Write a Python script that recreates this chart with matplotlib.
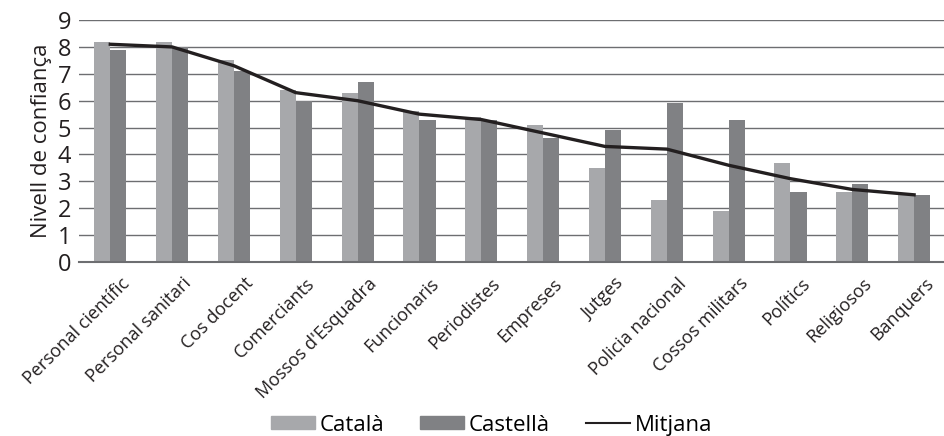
import numpy as np
import matplotlib.pyplot as plt
import matplotlib.transforms as mtransforms
from matplotlib.patches import Patch
from matplotlib.lines import Line2D

plt.rcParams['font.family'] = ['Open Sans', 'DejaVu Sans']

categories = ["Personal científic", "Personal sanitari", "Cos docent", "Comerciants",
              "Mossos d'Esquadra", "Funcionaris", "Periodistes", "Empreses", "Jutges",
              "Policia nacional", "Cossos militars", "Polítics", "Religiosos", "Banquers"]
catala = [8.2, 8.2, 7.5, 6.4, 6.3, 5.6, 5.4, 5.1, 3.5, 2.3, 1.9, 3.7, 2.6, 2.5]
castella = [7.9, 8.0, 7.1, 6.0, 6.7, 5.3, 5.3, 4.6, 4.9, 5.9, 5.3, 2.6, 2.9, 2.5]
mitjana = [8.1, 8.0, 7.3, 6.3, 6.0, 5.5, 5.3, 4.8, 4.3, 4.2, 3.6, 3.1, 2.7, 2.5]

c_cat = '#a7a8ab'
c_cas = '#808184'
c_line = '#231f20'

fig = plt.figure(figsize=(9.45, 4.36), dpi=100)
ax = fig.add_axes([0.084, 0.399, 0.916, 0.555])

x = np.arange(len(categories))
w = 0.26
ax.bar(x - w / 2, catala, w, color=c_cat, zorder=2)
ax.bar(x + w / 2, castella, w, color=c_cas, zorder=2)
ax.plot(x, mitjana, color=c_line, linewidth=2.4, zorder=3)

ax.set_xlim(-0.5, 13.5)
ax.set_ylim(0, 9)
ax.set_yticks(range(10))
ax.yaxis.grid(True, color='#6d6e71', linewidth=1.0, zorder=0)
ax.set_axisbelow(True)
for s in ['top', 'right', 'left']:
    ax.spines[s].set_visible(False)
ax.spines['bottom'].set_color('#6d6e71')
ax.spines['bottom'].set_linewidth(1.5)
ax.tick_params(axis='both', length=0)
ax.tick_params(axis='y', labelsize=17, pad=6, colors='#231f20')
ax.set_xticks(x)
ax.set_xticklabels(categories, rotation=45, ha='right', rotation_mode='anchor',
                   fontsize=13, color='#231f20')
ax.tick_params(axis='x', pad=9)
shift = mtransforms.ScaledTranslation(10 / 100, 0, fig.dpi_scale_trans)
for lab in ax.get_xticklabels():
    lab.set_transform(lab.get_transform() + shift)
ax.set_ylabel("Nivell de confiança", fontsize=16, color='#231f20', labelpad=4)

handles = [Patch(color=c_cat, label='Català'),
           Patch(color=c_cas, label='Castellà'),
           Line2D([], [], color=c_line, linewidth=1.5, label='Mitjana')]
fig.legend(handles=handles, loc='lower center', bbox_to_anchor=(0.52, -0.045), ncol=3,
           frameon=False, fontsize=16, handlelength=2.0, handleheight=0.55,
           handletextpad=0.2, columnspacing=1.6)

fig.savefig('out.png', dpi=100)
